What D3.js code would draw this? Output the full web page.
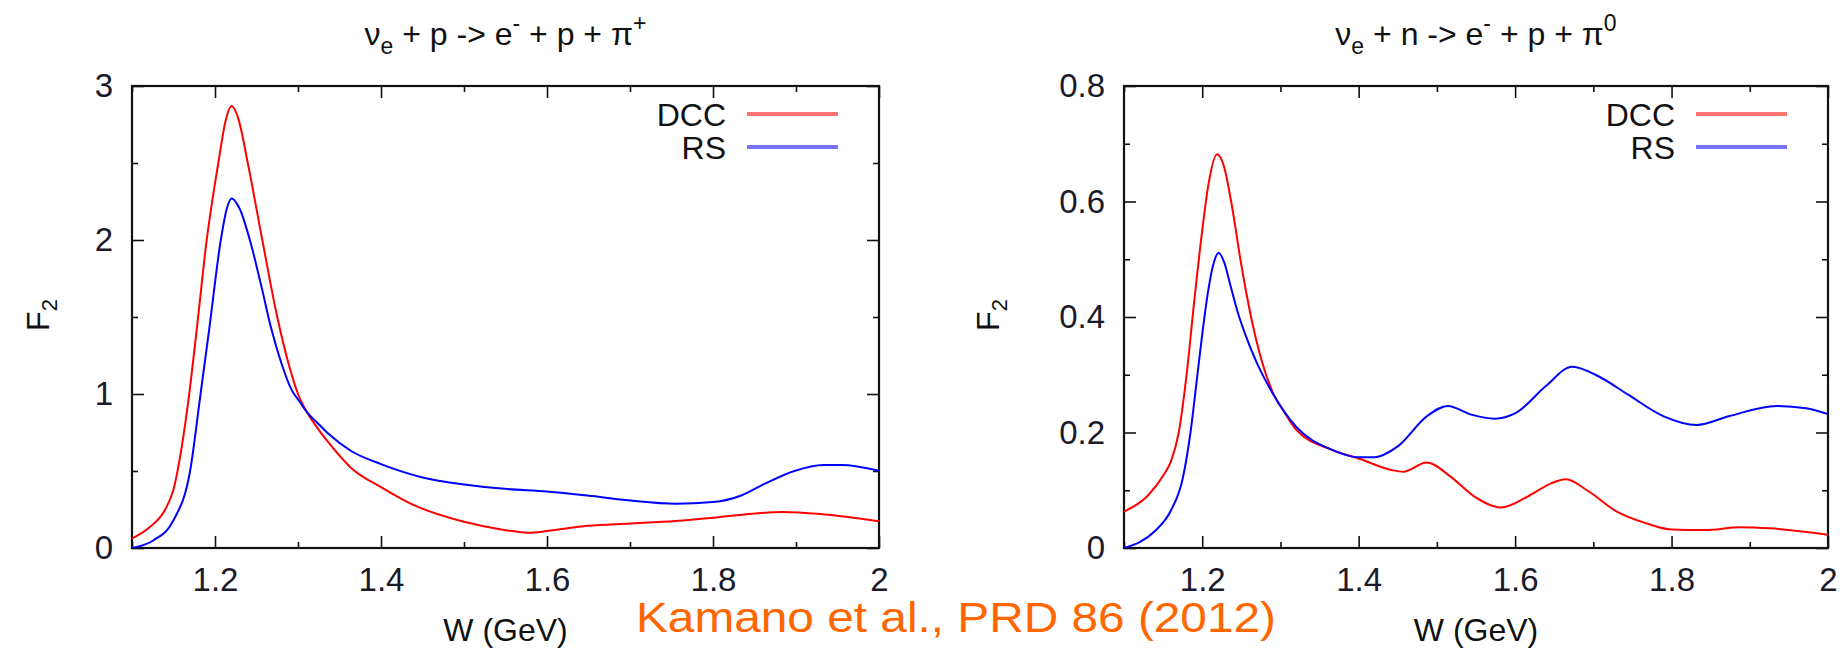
<!DOCTYPE html>
<html>
<head>
<meta charset="utf-8">
<script src="https://cdn.jsdelivr.net/npm/d3@7"></script>
<style>
  body { margin: 0; background: #fff; }
  text { font-family: "Liberation Sans", Arial, sans-serif; fill: #111; }
</style>
</head>
<body>
<div id="chart"></div>
<script>
// chart values
var wDomain = [1.1, 2];
var xTicks = [1.2, 1.4, 1.6, 1.8, 2];
var xTickLabels = ["1.2", "1.4", "1.6", "1.8", "2"];
var xMinorTicks = [1.1, 1.3, 1.5, 1.7, 1.9];

var leftYTicks = [0, 1, 2, 3];
var leftYLabels = ["0", "1", "2", "3"];
var leftYMinor = [0.5, 1.5, 2.5];
var rightYTicks = [0, 0.2, 0.4, 0.6, 0.8];
var rightYLabels = ["0", "0.2", "0.4", "0.6", "0.8"];
var rightYMinor = [0.1, 0.3, 0.5, 0.7];

var seriesNames = ["DCC", "RS"];
var seriesColors = ["#ff0000", "#0000ff"];

// nu_e + p -> e- + p + pi+   [W (GeV), F2]
var leftDCC = [[1.1,0.062],[1.12,0.13],[1.14,0.25],[1.15,0.38],[1.16,0.66],[1.168,0.96],[1.178,1.42],
  [1.19,2.0],[1.204,2.5],[1.213,2.78],[1.22,2.87],[1.228,2.79],[1.2395,2.5],[1.257,2.0],[1.275,1.5],
  [1.29,1.17],[1.3,1.0],[1.311,0.88],[1.322,0.79],[1.336,0.69],[1.364,0.52],[1.4,0.395],[1.435,0.29],
  [1.5,0.17],[1.55,0.116],[1.578,0.099],[1.6,0.11],[1.649,0.144],[1.7,0.159],[1.755,0.176],[1.8,0.197],
  [1.848,0.223],[1.884,0.234],[1.932,0.219],[2.0,0.174]];
var leftRS = [[1.1,0.0],[1.126,0.05],[1.15,0.18],[1.17,0.5],[1.1826,1.0],[1.193,1.42],[1.207,2.0],
  [1.214,2.2],[1.22,2.27],[1.23,2.2],[1.242,2.0],[1.255,1.72],[1.268,1.42],[1.28,1.2],[1.292,1.03],
  [1.302,0.95],[1.311,0.88],[1.322,0.82],[1.336,0.745],[1.364,0.63],[1.4,0.545],[1.449,0.46],[1.5,0.412],
  [1.549,0.384],[1.6,0.367],[1.649,0.341],[1.7,0.309],[1.755,0.288],[1.8,0.298],[1.834,0.341],
  [1.862,0.416],[1.898,0.5],[1.933,0.539],[1.955,0.539],[2.0,0.502]];

// nu_e + n -> e- + p + pi0
var rightDCC = [[1.1,0.063],[1.13,0.09],[1.15,0.125],[1.16,0.15],[1.17,0.2],[1.18,0.3],[1.19,0.43],
  [1.2,0.55],[1.208,0.63],[1.219,0.682],[1.228,0.66],[1.237,0.6],[1.25,0.49],[1.264,0.39],[1.277,0.32],
  [1.29,0.27],[1.305,0.235],[1.32,0.205],[1.366,0.17],[1.4,0.155],[1.442,0.135],[1.457,0.132],
  [1.487,0.148],[1.517,0.124],[1.548,0.089],[1.582,0.07],[1.616,0.089],[1.646,0.112],[1.665,0.119],
  [1.692,0.1],[1.73,0.063],[1.767,0.043],[1.8,0.032],[1.842,0.031],[1.888,0.036],[1.926,0.034],[2.0,0.023]];
var rightRS = [[1.1,0.0],[1.12,0.01],[1.14,0.03],[1.16,0.065],[1.175,0.12],[1.185,0.2],[1.193,0.29],
  [1.2,0.37],[1.207,0.44],[1.214,0.49],[1.221,0.511],[1.228,0.495],[1.236,0.455],[1.245,0.41],
  [1.255,0.37],[1.27,0.32],[1.29,0.268],[1.32,0.21],[1.366,0.17],[1.4,0.157],[1.419,0.157],[1.45,0.176],
  [1.487,0.228],[1.514,0.246],[1.544,0.231],[1.574,0.224],[1.601,0.234],[1.639,0.28],[1.673,0.314],
  [1.707,0.297],[1.745,0.265],[1.79,0.228],[1.832,0.213],[1.873,0.228],[1.934,0.246],[1.972,0.242],
  [2.0,0.232]];

var svgWidth = 1845, svgHeight = 649;

var svg = d3.select('#chart')
  .append('svg')
  .attr('width', svgWidth)
  .attr('height', svgHeight);

var panels = [
  { left: 132, top: 86, width: 747, height: 462, yMax: 3,
    yTicks: leftYTicks, yLabels: leftYLabels, yMinor: leftYMinor,
    series: [leftDCC, leftRS], target: 'p', pion: '+',
    legendX: 594, yLabelX: 38 },
  { left: 1124, top: 86, width: 704, height: 462, yMax: 0.8,
    yTicks: rightYTicks, yLabels: rightYLabels, yMinor: rightYMinor,
    series: [rightDCC, rightRS], target: 'n', pion: '0',
    legendX: 551, yLabelX: 988 }
];

panels.forEach(function(p, pi) {
  var g = svg.append('g')
    .attr('transform', `translate(${p.left}, ${p.top})`);

  var x = d3.scaleLinear().domain(wDomain).range([0, p.width]);
  var y = d3.scaleLinear().domain([0, p.yMax]).range([p.height, 0]);

  // major + minor ticks on all four sides, pointing inwards
  function styleAxis(sel) {
    sel.select('.domain').remove();
    sel.selectAll('.tick line').attr('stroke', '#111').attr('stroke-width', 1.6);
    sel.selectAll('.tick text').attr('font-size', 33).style('fill', '#1a1a2a');
  }

  g.append('g')
    .attr('transform', `translate(0, ${p.height})`)
    .call(d3.axisBottom(x).tickValues(xTicks).tickFormat(function(d, i) { return xTickLabels[i]; })
      .tickSizeInner(-12).tickSizeOuter(0).tickPadding(20))
    .call(styleAxis);
  g.append('g')
    .attr('transform', `translate(0, ${p.height})`)
    .call(d3.axisBottom(x).tickValues(xMinorTicks).tickFormat('').tickSizeInner(-6).tickSizeOuter(0))
    .call(styleAxis);
  g.append('g')
    .call(d3.axisTop(x).tickValues(xTicks).tickFormat('').tickSizeInner(-12).tickSizeOuter(0))
    .call(styleAxis);
  g.append('g')
    .call(d3.axisTop(x).tickValues(xMinorTicks).tickFormat('').tickSizeInner(-6).tickSizeOuter(0))
    .call(styleAxis);

  g.append('g')
    .call(d3.axisLeft(y).tickValues(p.yTicks).tickFormat(function(d, i) { return p.yLabels[i]; })
      .tickSizeInner(-12).tickSizeOuter(0).tickPadding(19))
    .call(styleAxis);
  g.append('g')
    .call(d3.axisLeft(y).tickValues(p.yMinor).tickFormat('').tickSizeInner(-6).tickSizeOuter(0))
    .call(styleAxis);
  g.append('g')
    .attr('transform', `translate(${p.width}, 0)`)
    .call(d3.axisRight(y).tickValues(p.yTicks).tickFormat('').tickSizeInner(-12).tickSizeOuter(0))
    .call(styleAxis);
  g.append('g')
    .attr('transform', `translate(${p.width}, 0)`)
    .call(d3.axisRight(y).tickValues(p.yMinor).tickFormat('').tickSizeInner(-6).tickSizeOuter(0))
    .call(styleAxis);

  // frame
  g.append('rect')
    .attr('width', p.width).attr('height', p.height)
    .attr('fill', 'none').attr('stroke', '#111').attr('stroke-width', 2.2);

  // curves
  g.append('clipPath').attr('id', 'clip' + pi)
    .append('rect').attr('width', p.width).attr('height', p.height);

  var line = d3.line()
    .x(function(d) { return x(d[0]); })
    .y(function(d) { return y(d[1]); })
    .curve(d3.curveMonotoneX);

  p.series.forEach(function(s, si) {
    g.append('path')
      .datum(s)
      .attr('clip-path', `url(#clip${pi})`)
      .attr('fill', 'none')
      .attr('stroke', seriesColors[si])
      .attr('stroke-width', 2)
      .attr('d', line);
  });

  // legend
  seriesNames.forEach(function(name, si) {
    var ly = 28 + si * 33;
    g.append('text')
      .attr('x', p.legendX).attr('y', ly).attr('dy', '0.36em')
      .attr('text-anchor', 'end')
      .attr('font-size', 32)
      .text(name);
    g.append('line')
      .attr('x1', p.legendX + 21).attr('x2', p.legendX + 112)
      .attr('y1', ly).attr('y2', ly)
      .attr('stroke', seriesColors[si]).attr('stroke-opacity', 0.55)
      .attr('stroke-width', 4);
  });

  // title with sub/superscripts
  var title = svg.append('text')
    .attr('x', p.left + p.width / 2).attr('y', 45)
    .attr('text-anchor', 'middle')
    .attr('font-size', 32);
  title.append('tspan').text('\u03bd');
  title.append('tspan').attr('dy', 9).attr('font-size', 23).text('e');
  title.append('tspan').attr('dy', -9).text(' + ' + p.target + ' -> e');
  title.append('tspan').attr('dy', -14).attr('font-size', 23).text('-');
  title.append('tspan').attr('dy', 14).text(' + p + \u03c0');
  title.append('tspan').attr('dy', -14).attr('font-size', 23).text(p.pion);

  // axis labels
  svg.append('text')
    .attr('x', p.left + p.width / 2).attr('y', 641)
    .attr('text-anchor', 'middle')
    .attr('font-size', 32)
    .text('W (GeV)');

  var yl = svg.append('text')
    .attr('transform', `translate(${p.yLabelX + 11}, 315) rotate(-90)`)
    .attr('text-anchor', 'middle')
    .attr('font-size', 32);
  yl.append('tspan').text('F');
  yl.append('tspan').attr('dy', 8).attr('font-size', 22).text('2');
});

// citation
svg.append('text')
  .attr('x', 636).attr('y', 632)
  .attr('font-family', '"DejaVu Sans", sans-serif')
  .attr('font-size', 42)
  .attr('textLength', 640)
  .attr('lengthAdjust', 'spacingAndGlyphs')
  .style('fill', '#ff6600')
  .text('Kamano et al., PRD 86 (2012)');
</script>
</body>
</html>
